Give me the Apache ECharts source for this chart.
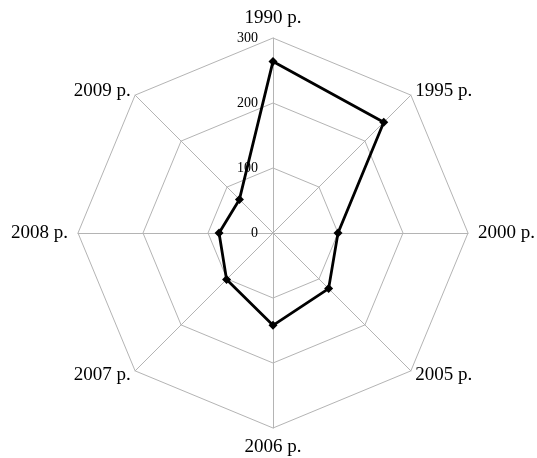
<!DOCTYPE html>
<html><head><meta charset="utf-8">
<script src="https://cdn.jsdelivr.net/npm/echarts@6/dist/echarts.min.js"></script>
<style>html,body{margin:0;padding:0;background:#fff}#c{width:537px;height:458px}</style>
</head><body><div id="c"></div>
<script>
// clockwise order starting at top
const categories = ['1990 p.', '1995 p.', '2000 p.', '2005 p.', '2006 p.', '2007 p.', '2008 p.', '2009 p.'];
const values = [264, 241, 100, 121, 142, 101, 83, 73];
const axisMax = 300;
const tickLabels = ['0', '100', '200', '300'];

// ECharts radar goes counter-clockwise, so reverse all but the first
const order = [0].concat(categories.map((_, i) => i).slice(1).reverse());
const indicators = order.map((i, k) => {
  const ind = { name: categories[i], min: 0, max: axisMax };
  if (i % 2 === 1) ind.nameGap = 6;
  return ind;
});
const orderedValues = order.map(i => values[i]);

const chart = echarts.init(document.getElementById('c'), null, { renderer: 'canvas' });
chart.setOption({
  animation: false,
  backgroundColor: '#fff',
  radar: {
    center: [273, 233],
    radius: 195,
    startAngle: 90,
    shape: 'polygon',
    splitNumber: 3,
    nameGap: 10,
    axisName: { color: '#000', fontSize: 19, fontFamily: 'Liberation Serif' },
    axisLine: { lineStyle: { color: '#b4b4b4', width: 1 } },
    splitLine: { lineStyle: { color: '#b4b4b4', width: 1 } },
    splitArea: { show: false },
    axisLabel: { show: false },
    indicator: indicators
  },
  // tick labels of the first (top) axis, read through a hidden value axis
  grid: { left: 0, right: 0, top: 38, bottom: 458 - 233 },
  xAxis: { type: 'value', show: false },
  yAxis: {
    type: 'value', min: 0, max: axisMax, interval: 100,
    position: 'left', offset: -258,
    axisLine: { show: false }, axisTick: { show: false }, splitLine: { show: false },
    axisLabel: {
      color: '#000', fontSize: 14, fontFamily: 'Liberation Serif', margin: 0,
      formatter: (v) => tickLabels.indexOf(String(v)) >= 0 ? String(v) : ''
    }
  },
  series: [{
    type: 'radar',
    symbol: 'diamond',
    symbolSize: 9,
    lineStyle: { color: '#000', width: 2.8 },
    itemStyle: { color: '#000' },
    data: [{ value: orderedValues }]
  }]
});
</script></body></html>
